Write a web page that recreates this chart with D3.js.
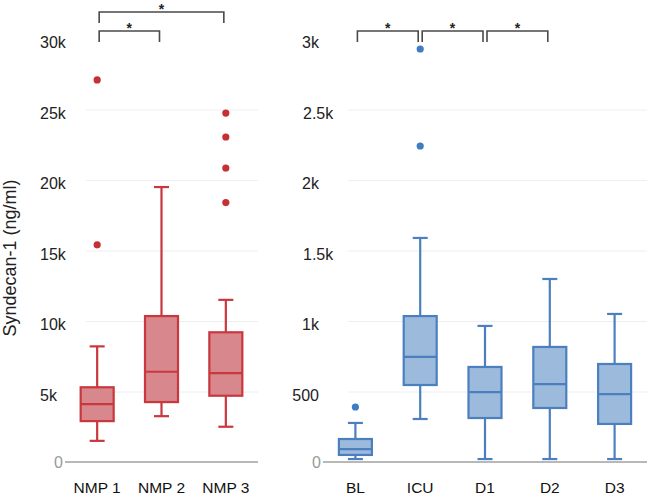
<!DOCTYPE html>
<html>
<head>
<meta charset="utf-8">
<script src="https://cdn.jsdelivr.net/npm/d3@7"></script>
<style>
  body { margin: 0; background: #fff; }
  svg { display: block; font-family: "Liberation Sans", Arial, sans-serif; }
</style>
</head>
<body>
<script>
// left panel: NMP groups
var leftCats = ["NMP 1", "NMP 2", "NMP 3"];
var leftLow = [1500, 3250, 2500];
var leftQ1 = [2900, 4250, 4700];
var leftMed = [4100, 6400, 6300];
var leftQ3 = [5300, 10350, 9200];
var leftHigh = [8200, 19500, 11500];
var leftOut = [[15400, 27100], [], [18400, 20850, 23050, 24750]];
var leftTicks = [0, 5000, 10000, 15000, 20000, 25000, 30000];
var leftTickLabels = ["0", "5k", "10k", "15k", "20k", "25k", "30k"];
var leftBrackets = [["NMP 1", "NMP 3", 0], ["NMP 1", "NMP 2", 1]];

// right panel: time points
var rightCats = ["BL", "ICU", "D1", "D2", "D3"];
var rightLow = [21, 305, 21, 21, 21];
var rightQ1 = [50, 546, 312, 383, 270];
var rightMed = [92, 745, 496, 553, 482];
var rightQ3 = [163, 1035, 674, 816, 695];
var rightHigh = [277, 1589, 965, 1298, 1050];
var rightOut = [[390], [2241, 2929], [], [], []];
var rightTicks = [0, 500, 1000, 1500, 2000, 2500, 3000];
var rightTickLabels = ["0", "500", "1k", "1.5k", "2k", "2.5k", "3k"];
var rightBrackets = [["BL", "ICU", 1], ["ICU", "D1", 1], ["D1", "D2", 1]];

var svg = d3.select("body").append("svg")
    .attr("width", 650)
    .attr("height", 503);

var plotTop = 39, plotBottom = 462;
var boxW = 33, capW = 15;
var bracketY = [12, 31];

function drawPanel(opt) {
    var x = d3.scaleBand().domain(opt.cats).range([opt.x0, opt.x1]);
    var y = d3.scaleLinear().domain([0, opt.ticks[opt.ticks.length - 1]]).range([plotBottom, plotTop]);
    var g = svg.append("g");

    // gridlines
    g.append("g")
        .attr("transform", "translate(" + opt.gridX + ",0)")
        .call(d3.axisRight(y).tickValues(opt.ticks.slice(1, -1)).tickSize(opt.x1 - opt.gridX).tickFormat(""))
        .call(function (a) { a.select(".domain").remove(); })
        .selectAll("line").attr("stroke", "#eeeeee");

    // tick labels
    var lab = g.append("g")
        .attr("transform", "translate(" + opt.labelX + ",0)")
        .call(d3.axisLeft(y).tickValues(opt.ticks.slice(1)).tickSize(0)
            .tickFormat(function (d, i) { return opt.labels[i + 1]; }));
    lab.select(".domain").remove();
    lab.selectAll("text")
        .attr("font-size", 16)
        .attr("font-family", "Liberation Sans, Arial, sans-serif")
        .attr("fill", "#222")
        .attr("dy", "0.55em")
        .attr("x", function (d, i) { return opt.anchor(opt.labels[i + 1]) == "end" ? opt.labelEnd - opt.labelX : 0; })
        .attr("text-anchor", function (d, i) { return opt.anchor(opt.labels[i + 1]); });

    // zero label and baseline
    g.append("text")
        .attr("x", opt.x0 - 2)
        .attr("y", y(0))
        .attr("dy", "0.36em")
        .attr("text-anchor", "end")
        .attr("font-size", 16)
        .attr("fill", "#9a9a9a")
        .text(opt.labels[0]);
    g.append("line")
        .attr("x1", opt.x0).attr("x2", opt.x1)
        .attr("y1", y(0)).attr("y2", y(0))
        .attr("stroke", "#a0a0a0").attr("stroke-width", 1.5);

    // x labels
    var xa = g.append("g")
        .attr("transform", "translate(0," + 481 + ")")
        .call(d3.axisBottom(x).tickSize(0).tickPadding(0));
    xa.select(".domain").remove();
    xa.selectAll("text")
        .attr("font-size", 15.5)
        .attr("font-family", "Liberation Sans, Arial, sans-serif")
        .attr("fill", "#111")
        .attr("dy", "0.8em");

    // boxes
    var idx = d3.range(opt.cats.length);
    var cx = function (i) { return x(opt.cats[i]) + x.bandwidth() / 2; };
    var bx = g.append("g").selectAll("g").data(idx).enter().append("g")
        .attr("stroke", opt.stroke).attr("stroke-width", 2.2);
    bx.append("line")
        .attr("x1", cx).attr("x2", cx)
        .attr("y1", function (i) { return y(opt.high[i]); })
        .attr("y2", function (i) { return y(opt.low[i]); });
    bx.append("line")
        .attr("x1", function (i) { return cx(i) - capW / 2; })
        .attr("x2", function (i) { return cx(i) + capW / 2; })
        .attr("y1", function (i) { return y(opt.high[i]); })
        .attr("y2", function (i) { return y(opt.high[i]); });
    bx.append("line")
        .attr("x1", function (i) { return cx(i) - capW / 2; })
        .attr("x2", function (i) { return cx(i) + capW / 2; })
        .attr("y1", function (i) { return y(opt.low[i]); })
        .attr("y2", function (i) { return y(opt.low[i]); });
    bx.append("rect")
        .attr("x", function (i) { return cx(i) - boxW / 2; })
        .attr("width", boxW)
        .attr("y", function (i) { return y(opt.q3[i]); })
        .attr("height", function (i) { return y(opt.q1[i]) - y(opt.q3[i]); })
        .attr("fill", opt.fill);
    bx.append("line")
        .attr("x1", function (i) { return cx(i) - boxW / 2; })
        .attr("x2", function (i) { return cx(i) + boxW / 2; })
        .attr("y1", function (i) { return y(opt.med[i]); })
        .attr("y2", function (i) { return y(opt.med[i]); });

    // outliers
    var pts = [];
    opt.out.forEach(function (arr, i) { arr.forEach(function (v) { pts.push([i, v]); }); });
    g.append("g").selectAll("circle").data(pts).enter().append("circle")
        .attr("cx", function (d) { return cx(d[0]); })
        .attr("cy", function (d) { return y(d[1]); })
        .attr("r", 3.6)
        .attr("fill", opt.dot);

    // significance brackets
    var br = g.append("g").selectAll("g").data(opt.brackets).enter().append("g");
    br.append("path")
        .attr("fill", "none").attr("stroke", "#4a4a4a").attr("stroke-width", 1.6)
        .attr("d", function (d) {
            var a = x(d[0]) + x.bandwidth() / 2 + 2, b = x(d[1]) + x.bandwidth() / 2 - 2, yy = bracketY[d[2]];
            return "M" + a + "," + (yy + 11) + "V" + yy + "H" + b + "V" + (yy + 11);
        });
    br.append("text")
        .attr("x", function (d) { return (x(d[0]) + x(d[1])) / 2 + x.bandwidth() / 2; })
        .attr("y", function (d) { return bracketY[d[2]] + 2; })
        .attr("text-anchor", "middle")
        .attr("font-size", 14)
        .attr("font-weight", "bold")
        .attr("fill", "#222")
        .text("*");
}

drawPanel({
    cats: leftCats, low: leftLow, q1: leftQ1, med: leftMed, q3: leftQ3, high: leftHigh, out: leftOut,
    ticks: leftTicks, labels: leftTickLabels, brackets: leftBrackets,
    x0: 65, x1: 258, gridX: 86, labelX: 40, labelEnd: 67,
    anchor: function () { return "start"; },
    stroke: "#c8383e", fill: "#d8878c", dot: "#c62f33"
});

drawPanel({
    cats: rightCats, low: rightLow, q1: rightQ1, med: rightMed, q3: rightQ3, high: rightHigh, out: rightOut,
    ticks: rightTicks, labels: rightTickLabels, brackets: rightBrackets,
    x0: 323, x1: 647, gridX: 348, labelX: 303, labelEnd: 319,
    anchor: function (t) { return t.indexOf(".") >= 0 ? "start" : "end"; },
    stroke: "#4c7fbf", fill: "#9cbadb", dot: "#3f7cc3"
});

// y axis title
svg.append("text")
    .attr("transform", "translate(16,258) rotate(-90)")
    .attr("text-anchor", "middle")
    .attr("font-size", 18)
    .attr("fill", "#222")
    .text("Syndecan-1 (ng/ml)");
</script>
</body>
</html>
